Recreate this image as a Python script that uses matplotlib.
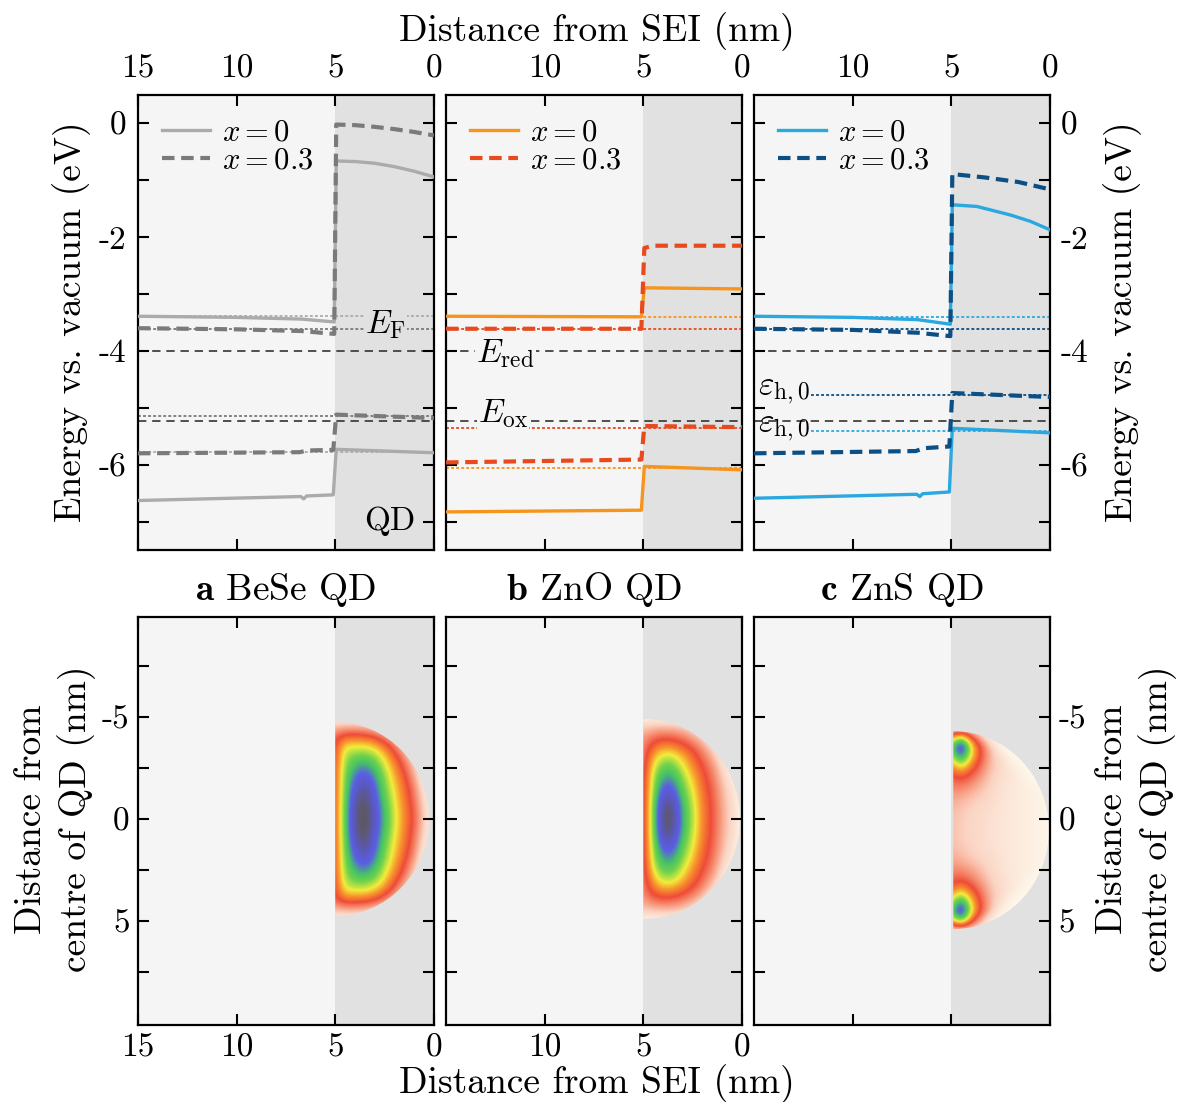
import numpy as np
import matplotlib
matplotlib.use('Agg')
import matplotlib.pyplot as plt
from matplotlib.colors import LinearSegmentedColormap
from matplotlib.patches import Wedge

plt.rcParams['font.family'] = 'serif'
plt.rcParams['font.serif'] = ['cmr10']
plt.rcParams['mathtext.fontset'] = 'cm'
plt.rcParams['axes.unicode_minus'] = False

# ---------------- band edges (eV) vs distance from SEI (nm) ----------------
# a: BeSe
a_cb0_x = [15, 10, 6.7, 5.05, 4.95, 4, 3, 2, 1, 0]
a_cb0_e = [-3.39, -3.41, -3.44, -3.49, -0.66, -0.67, -0.70, -0.76, -0.84, -0.94]
a_cb3_x = [15, 10, 6.7, 5.05, 4.95, 4, 3, 2, 1, 0]
a_cb3_e = [-3.60, -3.62, -3.65, -3.70, -0.02, -0.03, -0.06, -0.10, -0.15, -0.21]
a_vb0_x = [15, 6.75, 6.6, 6.45, 5.1, 4.95, 0]
a_vb0_e = [-6.63, -6.56, -6.60, -6.55, -6.53, -5.73, -5.79]
a_vb3_x = [15, 6.8, 6.4, 5.1, 4.95, 0]
a_vb3_e = [-5.80, -5.78, -5.75, -5.74, -5.12, -5.18]
a_ef = [-3.39, -3.61]
a_eh = [-5.78, -5.15]

# b: ZnO
b_cb0_x = [15, 5.1, 4.95, 0]
b_cb0_e = [-3.39, -3.40, -2.89, -2.91]
b_cb3_x = [15, 5.1, 4.95, 4.5, 0]
b_cb3_e = [-3.61, -3.61, -2.19, -2.15, -2.15]
b_vb0_x = [15, 5.1, 4.95, 0]
b_vb0_e = [-6.83, -6.80, -6.03, -6.09]
b_vb3_x = [15, 5.1, 4.95, 0]
b_vb3_e = [-5.96, -5.91, -5.32, -5.34]
b_ef = [-3.41, -3.62]
b_eh = [-6.05, -5.35]

# c: ZnS
c_cb0_x = [15, 10, 6.7, 5.05, 4.95, 3.7, 2.0, 1.0, 0]
c_cb0_e = [-3.39, -3.41, -3.45, -3.53, -1.43, -1.46, -1.61, -1.72, -1.87]
c_cb3_x = [15, 10, 6.7, 5.05, 4.95, 3.3, 1.6, 0]
c_cb3_e = [-3.61, -3.63, -3.68, -3.74, -0.89, -0.95, -1.03, -1.16]
c_vb0_x = [15, 6.75, 6.6, 6.45, 5.1, 4.95, 0]
c_vb0_e = [-6.59, -6.52, -6.56, -6.51, -6.48, -5.36, -5.44]
c_vb3_x = [15, 6.8, 6.4, 5.1, 4.95, 0]
c_vb3_e = [-5.80, -5.76, -5.71, -5.68, -4.74, -4.81]
c_ef = [-3.40, -3.61]
c_eh = [-5.40, -4.77]

e_red = -4.0
e_ox = -5.23

# ---------------- hole density maps (half grids, rows |y| = 0..5 step 0.5,
# columns x = 5.0..0.0 step 0.5), normalised ----------------
dens_x = [5.0, 4.5, 4.0, 3.5, 3.0, 2.5, 2.0, 1.5, 1.0, 0.5, 0.0]
dens_y = [0.0, 0.5, 1.0, 1.5, 2.0, 2.5, 3.0, 3.5, 4.0, 4.5, 5.0]

dens_a = [
    [0.28, 0.60, 0.90, 1.00, 0.84, 0.66, 0.50, 0.37, 0.26, 0.10, 0.0],
    [0.28, 0.60, 0.89, 0.99, 0.83, 0.65, 0.49, 0.36, 0.25, 0.09, 0.0],
    [0.28, 0.59, 0.86, 0.96, 0.80, 0.62, 0.47, 0.35, 0.23, 0.07, 0.0],
    [0.28, 0.58, 0.81, 0.91, 0.77, 0.59, 0.45, 0.33, 0.21, 0.04, 0.0],
    [0.28, 0.57, 0.75, 0.82, 0.72, 0.56, 0.42, 0.30, 0.17, 0.0, 0.0],
    [0.28, 0.55, 0.68, 0.73, 0.65, 0.51, 0.38, 0.26, 0.12, 0.0, 0.0],
    [0.27, 0.53, 0.59, 0.61, 0.56, 0.45, 0.32, 0.20, 0.05, 0.0, 0.0],
    [0.26, 0.47, 0.48, 0.48, 0.44, 0.35, 0.24, 0.10, 0.0, 0.0, 0.0],
    [0.24, 0.32, 0.32, 0.31, 0.28, 0.20, 0.10, 0.0, 0.0, 0.0, 0.0],
    [0.12, 0.13, 0.13, 0.12, 0.08, 0.02, 0.0, 0.0, 0.0, 0.0, 0.0],
    [0.0, 0.0, 0.0, 0.0, 0.0, 0.0, 0.0, 0.0, 0.0, 0.0, 0.0],
]
dens_b = [
    [0.22, 0.55, 0.95, 0.94, 0.68, 0.53, 0.36, 0.27, 0.16, 0.08, 0.0],
    [0.22, 0.55, 0.94, 0.93, 0.67, 0.52, 0.36, 0.27, 0.16, 0.08, 0.0],
    [0.22, 0.54, 0.87, 0.86, 0.64, 0.50, 0.35, 0.26, 0.15, 0.07, 0.0],
    [0.22, 0.52, 0.78, 0.78, 0.60, 0.47, 0.33, 0.25, 0.14, 0.05, 0.0],
    [0.22, 0.50, 0.70, 0.70, 0.55, 0.43, 0.31, 0.23, 0.11, 0.03, 0.0],
    [0.21, 0.46, 0.61, 0.61, 0.49, 0.38, 0.28, 0.20, 0.08, 0.0, 0.0],
    [0.20, 0.40, 0.51, 0.51, 0.42, 0.33, 0.24, 0.15, 0.04, 0.0, 0.0],
    [0.19, 0.32, 0.38, 0.37, 0.32, 0.26, 0.18, 0.08, 0.0, 0.0, 0.0],
    [0.17, 0.22, 0.25, 0.24, 0.21, 0.16, 0.09, 0.0, 0.0, 0.0, 0.0],
    [0.10, 0.12, 0.12, 0.12, 0.10, 0.06, 0.0, 0.0, 0.0, 0.0, 0.0],
    [0.0, 0.0, 0.0, 0.0, 0.0, 0.0, 0.0, 0.0, 0.0, 0.0, 0.0],
]
dens_c = [
    [0.13, 0.11, 0.09, 0.08, 0.06, 0.05, 0.04, 0.03, 0.02, 0.01, 0.0],
    [0.13, 0.11, 0.09, 0.08, 0.06, 0.05, 0.04, 0.03, 0.02, 0.01, 0.0],
    [0.14, 0.12, 0.10, 0.08, 0.07, 0.05, 0.04, 0.03, 0.02, 0.01, 0.0],
    [0.16, 0.15, 0.12, 0.10, 0.08, 0.06, 0.04, 0.03, 0.02, 0.01, 0.0],
    [0.20, 0.20, 0.17, 0.13, 0.09, 0.06, 0.04, 0.03, 0.02, 0.0, 0.0],
    [0.25, 0.28, 0.23, 0.17, 0.11, 0.07, 0.05, 0.03, 0.0, 0.0, 0.0],
    [0.32, 0.45, 0.33, 0.22, 0.13, 0.08, 0.05, 0.0, 0.0, 0.0, 0.0],
    [0.45, 0.72, 0.45, 0.27, 0.14, 0.08, 0.0, 0.0, 0.0, 0.0, 0.0],
    [0.55, 1.00, 0.50, 0.28, 0.13, 0.0, 0.0, 0.0, 0.0, 0.0, 0.0],
    [0.35, 0.55, 0.30, 0.14, 0.0, 0.0, 0.0, 0.0, 0.0, 0.0, 0.0],
    [0.0, 0.0, 0.0, 0.0, 0.0, 0.0, 0.0, 0.0, 0.0, 0.0, 0.0],
]
# QD outline: (centre x, centre y, radius) in nm
dot_a = (5.0, 0.0, 4.75)
dot_b = (5.0, 0.0, 4.9)
dot_c = (4.9, 0.55, 4.85)

titles = [r'$\mathbf{a}$ BeSe QD', r'$\mathbf{b}$ ZnO QD', r'$\mathbf{c}$ ZnS QD']

# ---------------- style ----------------
col_sei = '#f5f5f5'
col_qd = '#e1e1e1'
colors = [('#ababab', '#7a7a7a'), ('#f7941d', '#e84a1d'), ('#2aa8e0', '#0c4f85')]
dens_cmap = LinearSegmentedColormap.from_list('dens', [
    (0.00, '#fdf6e9'), (0.10, '#fbd3c2'), (0.20, '#f6896c'), (0.28, '#ef4b37'),
    (0.38, '#f7942e'), (0.47, '#f3ec3b'), (0.58, '#6fd24d'), (0.66, '#45c266'),
    (0.76, '#5a5ee6'), (0.86, '#5a58b8'), (0.94, '#5d5870'), (1.00, '#5e5848')])

fs_lab = 27
fs_tick = 24
dot_ls = (0, (1.6, 1.2))

fig = plt.figure(figsize=(11.8, 11.02), dpi=100)
lefts = [0.1169, 0.3780, 0.6390]
w = 0.2508
top_axes = [fig.add_axes([l, 0.5009, w, 0.4129]) for l in lefts]
bot_axes = [fig.add_axes([l, 0.0699, w, 0.3703]) for l in lefts]

bands = [
    (a_cb0_x, a_cb0_e, a_cb3_x, a_cb3_e, a_vb0_x, a_vb0_e, a_vb3_x, a_vb3_e, a_ef, a_eh),
    (b_cb0_x, b_cb0_e, b_cb3_x, b_cb3_e, b_vb0_x, b_vb0_e, b_vb3_x, b_vb3_e, b_ef, b_eh),
    (c_cb0_x, c_cb0_e, c_cb3_x, c_cb3_e, c_vb0_x, c_vb0_e, c_vb3_x, c_vb3_e, c_ef, c_eh),
]

for i, ax in enumerate(top_axes):
    cb0x, cb0e, cb3x, cb3e, vb0x, vb0e, vb3x, vb3e, ef, eh = bands[i]
    c0, c3 = colors[i]
    ax.axvspan(5, 15, color=col_sei, lw=0, zorder=0)
    ax.axvspan(0, 5, color=col_qd, lw=0, zorder=0)

    ax.axhline(e_red, color='#333333', lw=1.2, ls=(0, (5, 3.5)), zorder=1)
    ax.axhline(e_ox, color='#333333', lw=1.2, ls=(0, (5, 3.5)), zorder=1)

    # Fermi levels (full width) and hole levels
    eh_start = 12.1 if i == 2 else 15
    ax.plot([15, 0], [ef[0], ef[0]], color=c0, lw=1.3, ls=dot_ls, zorder=2)
    ax.plot([15, 0], [ef[1], ef[1]], color=c3, lw=1.3, ls=dot_ls, zorder=2)
    ax.plot([eh_start, 0], [eh[0], eh[0]], color=c0, lw=1.3, ls=dot_ls, zorder=2)
    ax.plot([eh_start, 0], [eh[1], eh[1]], color=c3, lw=1.3, ls=dot_ls, zorder=2)

    ax.plot(cb0x, cb0e, color=c0, lw=2.4, zorder=3, label=r'$x = 0$')
    ax.plot(cb3x, cb3e, color=c3, lw=3.0, ls=(0, (3, 1.6)), zorder=4, label=r'$x = 0.3$')
    ax.plot(vb0x, vb0e, color=c0, lw=2.4, zorder=3)
    ax.plot(vb3x, vb3e, color=c3, lw=3.0, ls=(0, (3, 1.6)), zorder=4)

    ax.set_xlim(15, 0)
    ax.set_ylim(-7.5, 0.5)
    ax.set_yticks(np.arange(-7, 1, 1), ['', '-6', '', '-4', '', '-2', '', '0'])
    if i == 0:
        ax.set_xticks([15, 10, 5, 0], ['15', '10', '5', '0'])
    else:
        ax.set_xticks([10, 5, 0], ['10', '5', '0'])
    ax.tick_params(which='both', direction='in', top=True, bottom=True, left=True, right=True,
                   labeltop=True, labelbottom=False, labelleft=(i == 0), labelright=(i == 2),
                   length=8, width=1.5, pad=8, labelsize=fs_tick)
    for s in ax.spines.values():
        s.set_linewidth(1.6)
    ax.legend(loc='upper left', frameon=False, fontsize=22, handlelength=1.55,
              handletextpad=0.4, labelspacing=0.0, borderaxespad=0.4, borderpad=0.4)

# annotations in the band panels
top_axes[0].text(2.45, -3.53, r'$E_{\rm F}$', fontsize=fs_tick, ha='center', va='center',
                 bbox=dict(facecolor=col_qd, edgecolor='none', pad=1), zorder=2.5)
top_axes[0].text(2.25, -7.0, 'QD', fontsize=fs_tick, ha='center', va='center')
top_axes[1].text(12.0, -4.05, r'$E_{\rm red}$', fontsize=fs_tick, ha='center', va='center',
                 bbox=dict(facecolor=col_sei, edgecolor='none', pad=1), zorder=2.5)
top_axes[1].text(12.1, -5.1, r'$E_{\rm ox}$', fontsize=fs_tick, ha='center', va='center',
                 bbox=dict(facecolor=col_sei, edgecolor='none', pad=0.5), zorder=2.5)
top_axes[2].text(13.5, -4.72, r'$\varepsilon_{\rm h,0}$', fontsize=fs_tick, ha='center', va='center')
top_axes[2].text(13.5, -5.36, r'$\varepsilon_{\rm h,0}$', fontsize=fs_tick, ha='center', va='center')

# ---------------- density panels ----------------
dens_all = [dens_a, dens_b, dens_c]
dots = [dot_a, dot_b, dot_c]
dx = dens_x[0] - dens_x[1]
for i, ax in enumerate(bot_axes):
    ax.axvspan(5, 15, color=col_sei, lw=0, zorder=0)
    ax.axvspan(0, 5, color=col_qd, lw=0, zorder=0)
    half = np.array(dens_all[i])
    full = np.vstack([half[::-1], half[1:]])
    xc, yc, r = dots[i]
    ymax = dens_y[-1]
    im = ax.imshow(full, cmap=dens_cmap, vmin=0, vmax=1, interpolation='bicubic',
                   origin='upper', aspect='auto', zorder=1,
                   extent=(dens_x[0] + dx / 2, dens_x[-1] - dx / 2,
                           yc + ymax + dx / 2, yc - ymax - dx / 2))
    wedge = Wedge((xc, yc), r, 90, 270, transform=ax.transData)
    im.set_clip_path(wedge)
    ax.set_xlim(15, 0)
    ax.set_ylim(10.1, -9.9)
    ax.set_yticks([-7.5, -5, -2.5, 0, 2.5, 5, 7.5], ['', '-5', '', '0', '', '5', ''])
    if i == 0:
        ax.set_xticks([15, 10, 5, 0], ['15', '10', '5', '0'])
    else:
        ax.set_xticks([10, 5, 0], ['10', '5', '0'])
    ax.tick_params(which='both', direction='in', top=True, bottom=True, left=True, right=True,
                   labeltop=False, labelbottom=(i < 2), labelleft=(i == 0), labelright=(i == 2),
                   length=8, width=1.5, pad=6, labelsize=fs_tick)
    for s in ax.spines.values():
        s.set_linewidth(1.6)
    ax.set_title(titles[i], fontsize=fs_lab, pad=12)

# ---------------- figure labels ----------------
fig.text(0.506, 0.971, 'Distance from SEI (nm)', fontsize=fs_lab, ha='center', va='center')
fig.text(0.506, 0.017, 'Distance from SEI (nm)', fontsize=fs_lab, ha='center', va='center')
fig.text(0.061, 0.708, 'Energy vs. vacuum (eV)', fontsize=fs_lab, ha='center', va='center',
         rotation=90)
fig.text(0.951, 0.708, 'Energy vs. vacuum (eV)', fontsize=fs_lab, ha='center', va='center',
         rotation=90)
fig.text(0.047, 0.257, 'Distance from\ncentre of QD (nm)', fontsize=fs_lab, ha='center',
         va='center', rotation=90, linespacing=1.3)
fig.text(0.963, 0.257, 'Distance from\ncentre of QD (nm)', fontsize=fs_lab, ha='center',
         va='center', rotation=90, linespacing=1.3)

fig.savefig('out.png', dpi=100)
